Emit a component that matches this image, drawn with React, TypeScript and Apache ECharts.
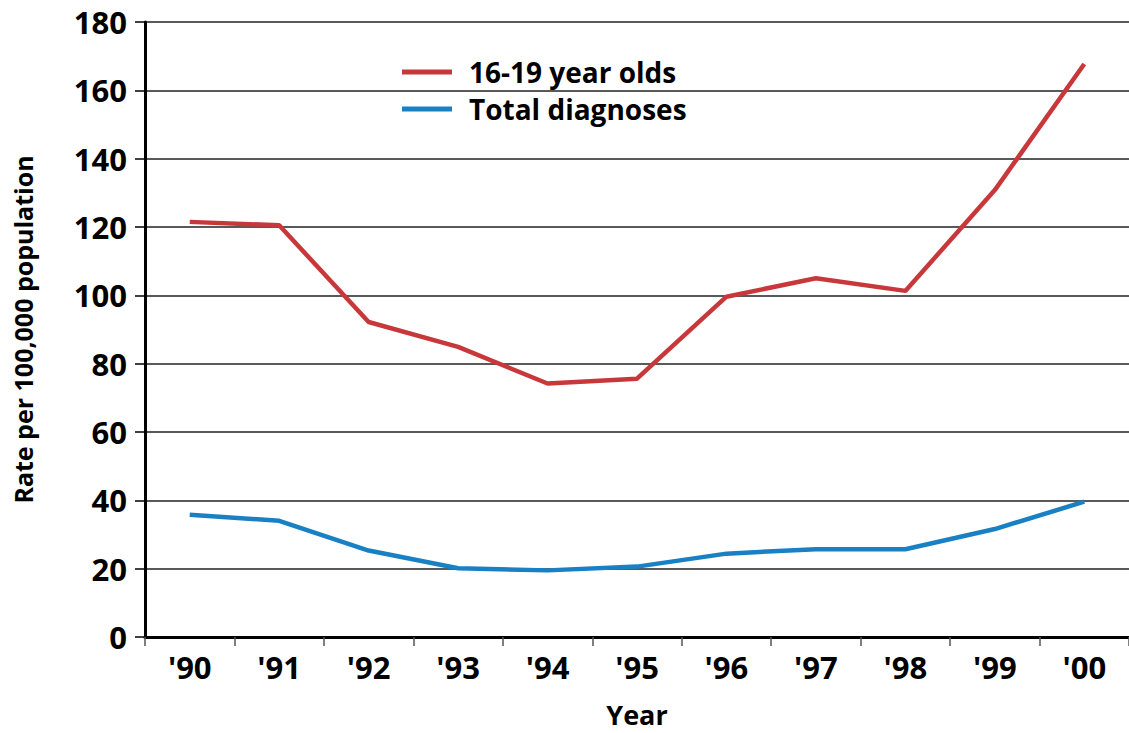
import React, { useEffect, useRef } from "react";
import * as echarts from "echarts";

const years = ["'90", "'91", "'92", "'93", "'94", "'95", "'96", "'97", "'98", "'99", "'00"];
const teens = [121.5, 120.5, 92.2, 84.9, 74.2, 75.6, 99.6, 105.0, 101.3, 130.8, 167.7];
const total = [35.8, 34.0, 25.3, 20.1, 19.5, 20.6, 24.4, 25.7, 25.7, 31.6, 39.6];

const FONT = "'Open Sans', Lato, sans-serif";

export default function App() {
  const ref = useRef<HTMLDivElement>(null);
  useEffect(() => {
    if (!ref.current) return;
    const chart = echarts.init(ref.current, null, { renderer: "svg" });
    chart.setOption({
      animation: false,
      backgroundColor: "#ffffff",
      textStyle: { fontFamily: FONT, fontWeight: "bold", color: "#000" },
      grid: { left: 145, right: -6, top: 22, bottom: 92, containLabel: false },
      legend: {
        orient: "vertical",
        left: 397,
        top: 53,
        itemWidth: 50,
        itemHeight: 5,
        itemGap: 9,
        icon: "rect",
        textStyle: { fontSize: 28, fontWeight: "bold", fontFamily: FONT, color: "#000", padding: [0, 0, 0, 12] },
        data: ["16-19 year olds", "Total diagnoses"],
      },
      xAxis: {
        type: "category",
        data: years,
        boundaryGap: true,
        name: "Year",
        nameLocation: "middle",
        nameGap: 64,
        nameTextStyle: { fontSize: 27, fontWeight: "bold", fontFamily: FONT, color: "#000" },
        axisLine: { show: true, lineStyle: { color: "#000", width: 3 } },
        axisTick: { show: true, interval: 0, length: 9, lineStyle: { color: "#555", width: 1.5 } },
        axisLabel: { fontSize: 31, fontWeight: "bold", fontFamily: FONT, color: "#000", margin: 14, interval: 0 },
        splitLine: { show: false },
      },
      yAxis: {
        type: "value",
        min: 0,
        max: 180,
        interval: 20,
        name: "Rate per 100,000 population",
        nameLocation: "middle",
        nameGap: 110,
        nameTextStyle: { fontSize: 25, fontWeight: "bold", fontFamily: FONT, color: "#000" },
        axisLine: { show: true, lineStyle: { color: "#000", width: 3 } },
        axisTick: { show: true, length: 10, lineStyle: { color: "#000", width: 1.5 } },
        axisLabel: { fontSize: 31, fontWeight: "bold", fontFamily: FONT, color: "#000", margin: 18 },
        splitLine: { show: true, lineStyle: { color: "#222", width: 1.5 } },
      },
      series: [
        {
          name: "16-19 year olds",
          type: "line",
          data: teens,
          symbol: "none",
          color: "#c8383b",
          lineStyle: { color: "#c8383b", width: 4.5 },
          z: 3,
        },
        {
          name: "Total diagnoses",
          type: "line",
          data: total,
          symbol: "none",
          color: "#1a80c4",
          lineStyle: { color: "#1a80c4", width: 4.5 },
          z: 3,
        },
      ],
    });
    return () => chart.dispose();
  }, []);
  return <div ref={ref} style={{ width: 1129, height: 733, position: "absolute", left: 0, top: 0 }} />;
}
